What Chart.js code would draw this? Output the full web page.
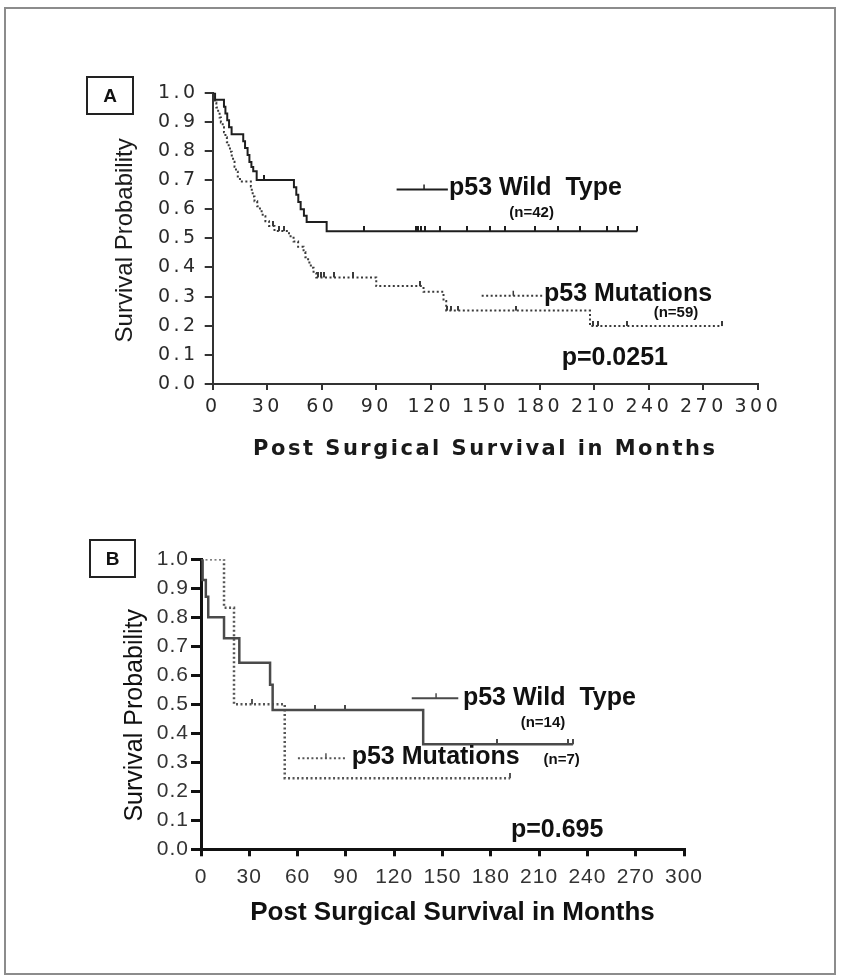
<!DOCTYPE html>
<html>
<head>
<meta charset="utf-8">
<title>p53 survival curves</title>
<script src="https://cdn.jsdelivr.net/npm/chart.js@4.4.1/dist/chart.umd.min.js"></script>
<style>
  html, body { margin: 0; padding: 0; background: #fff; }
  body { width: 841px; height: 980px; position: relative; overflow: hidden; }
  .frame { position: absolute; left: 4px; top: 7px; width: 832px; height: 968px; border: 2px solid #8c8c8c; box-sizing: border-box; }
  canvas { position: absolute; left: 0; }
  #chartA { top: 0; }
  #chartB { top: 480px; }
</style>
</head>
<body>
<div class="frame"></div>
<canvas id="chartA" width="841" height="480"></canvas>
<canvas id="chartB" width="841" height="480"></canvas>
<script>
// axis ticks
const xTicks = [0, 30, 60, 90, 120, 150, 180, 210, 240, 270, 300];
const yTicks = [0, 0.1, 0.2, 0.3, 0.4, 0.5, 0.6, 0.7, 0.8, 0.9, 1.0];

// panel A, all patients (months / survival after each step)
const wtA_months = [0, 1.3, 6.2, 7, 8, 9, 10.4, 16.8, 17.8, 19.2, 20.2, 21.3, 22.3, 24.2, 44.7, 46, 47.1, 48.4, 50.2, 51.7, 62.7, 233.6];
const wtA_surv = [1, 0.976, 0.952, 0.929, 0.905, 0.881, 0.857, 0.833, 0.81, 0.786, 0.762, 0.745, 0.73, 0.70, 0.675, 0.65, 0.625, 0.60, 0.578, 0.556, 0.524, 0.524];
const wtA_censored = [28.5, 83, 111.6, 113, 114.5, 117, 125, 140, 152.6, 160.8, 177.3, 190, 202, 217, 223, 233.6];

const mutA_months = [0, 0.5, 1.2, 2, 3, 3.8, 4.5, 5.5, 6.2, 7, 7.8, 8.8, 9.5, 10.5, 11.2, 12, 12.8, 13.8, 15, 21,
  21.5, 22, 23, 24.5, 26, 27.5, 29, 31, 34, 42, 44.5, 47, 50, 51, 52.5, 54, 55.5, 57, 90, 116, 127, 128.5, 207.6, 280];
const mutA_surv = [1, 0.983, 0.966, 0.949, 0.932, 0.915, 0.898, 0.881, 0.864, 0.847, 0.83, 0.814, 0.797, 0.78, 0.763, 0.746, 0.729, 0.712, 0.695, 0.678,
  0.661, 0.644, 0.627, 0.61, 0.593, 0.576, 0.559, 0.542, 0.525, 0.507, 0.489, 0.471, 0.453, 0.435, 0.417, 0.399, 0.381, 0.366, 0.336, 0.317, 0.285, 0.252, 0.199, 0.199];
const mutA_censored = [33, 36.5, 39, 58, 59.5, 61, 67, 77.4, 114, 128.8, 131, 135, 167, 209.4, 212, 227.8, 280];

// panel B, subgroup
const wtB_months = [0, 1, 3, 4.5, 14.3, 23.8, 42.9, 44.5, 138, 231];
const wtB_surv = [1, 0.929, 0.871, 0.80, 0.728, 0.643, 0.567, 0.48, 0.362, 0.362];
const wtB_censored = [70.8, 89.4, 183.6, 228, 231];

const mutB_months = [0, 14.3, 20.5, 52, 192];
const mutB_surv = [1, 0.833, 0.5, 0.245, 0.245];
const mutB_censored = [31.5, 192];

function kmPoints(months, surv) {
  return months.map((m, i) => ({ x: m, y: surv[i] }));
}

// censored cases sit on the curve at the time they drop out
function censorPoints(times, months, surv) {
  return times.map(t => {
    let i = 0;
    while (i + 1 < months.length && months[i + 1] <= t) i++;
    return { x: t, y: surv[i] };
  });
}

// small upward tick used as point style
function tickMark(h, color) {
  const c = document.createElement('canvas');
  c.width = 2;
  c.height = h * 2;
  const g = c.getContext('2d');
  g.fillStyle = color;
  g.fillRect(0, 0, 2, h);
  return c;
}

const notes = {
  id: 'notes',
  beforeDraw(chart, args, opts) {
    chart.ctx.letterSpacing = opts.tickSpacing || '0px';
  },
  beforeDatasetsDraw(chart) {
    chart.ctx.letterSpacing = '0px';
  },
  afterDraw(chart, args, opts) {
    const { ctx, chartArea: area, scales: { x, y } } = chart;
    ctx.save();
    ctx.letterSpacing = '0px';

    // panel letter
    const b = opts.box;
    ctx.lineWidth = 2;
    ctx.strokeStyle = '#222';
    ctx.strokeRect(b.x, b.y, b.w, b.h);
    ctx.fillStyle = '#111';
    ctx.font = 'bold 19px "Liberation Sans"';
    ctx.textAlign = 'center';
    ctx.textBaseline = 'middle';
    ctx.fillText(b.text, b.x + b.w / 2, b.y + b.h / 2 + 1);

    // axis titles
    const xt = opts.xTitle, yt = opts.yTitle;
    ctx.fillStyle = opts.titleColor;
    ctx.font = xt.font;
    ctx.letterSpacing = xt.spacing;
    ctx.fillText(xt.text, (area.left + area.right) / 2 + xt.dx, area.bottom + xt.dy);
    ctx.letterSpacing = '0px';
    ctx.save();
    ctx.translate(area.left + yt.dx, (area.top + area.bottom) / 2 + yt.dy);
    ctx.rotate(-Math.PI / 2);
    ctx.font = yt.font;
    ctx.fillText(yt.text, 0, 0);
    ctx.restore();

    // legend keys
    opts.keys.forEach(k => {
      const py = y.getPixelForValue(k.y);
      ctx.strokeStyle = k.color;
      ctx.lineWidth = k.width;
      ctx.setLineDash(k.dash);
      ctx.beginPath();
      ctx.moveTo(x.getPixelForValue(k.from), py);
      ctx.lineTo(x.getPixelForValue(k.to), py);
      ctx.stroke();
      ctx.setLineDash([]);
      const tx = x.getPixelForValue(k.tick);
      ctx.lineWidth = 1.5;
      ctx.beginPath();
      ctx.moveTo(tx, py);
      ctx.lineTo(tx, py - 5);
      ctx.stroke();
    });

    // labels
    ctx.fillStyle = '#111';
    ctx.textBaseline = 'middle';
    opts.texts.forEach(t => {
      ctx.font = t.font;
      ctx.textAlign = t.align;
      ctx.fillText(t.text, x.getPixelForValue(t.x), y.getPixelForValue(t.y));
    });
    ctx.restore();
  }
};

function axes(s) {
  return {
    x: {
      type: 'linear', min: 0, max: 300,
      afterBuildTicks: sc => { sc.ticks = xTicks.map(v => ({ value: v })); },
      afterFit: sc => { sc.height = s.xHeight; },
      grid: { drawOnChartArea: false, drawTicks: true, tickLength: s.xTickLen, color: s.axisColor, lineWidth: s.axisWidth },
      border: { display: true, color: s.axisColor, width: s.axisWidth },
      ticks: { padding: s.xPad, color: s.tickColor, font: s.tickFont, maxRotation: 0, autoSkip: false }
    },
    y: {
      type: 'linear', min: 0, max: 1,
      afterBuildTicks: sc => { sc.ticks = yTicks.map(v => ({ value: v })); },
      afterFit: sc => { sc.width = s.yWidth; },
      grid: { drawOnChartArea: false, drawTicks: true, tickLength: s.yTickLen, color: s.axisColor, lineWidth: s.axisWidth },
      border: { display: true, color: s.axisColor, width: s.axisWidth },
      ticks: { padding: s.yPad, color: s.tickColor, font: s.tickFont, callback: v => v.toFixed(1) }
    }
  };
}

function datasets(wt, mut, style) {
  return [
    { data: kmPoints(wt.months, wt.surv), stepped: true, borderColor: style.wtColor, borderWidth: style.wtWidth, pointRadius: 0, fill: false },
    { data: kmPoints(mut.months, mut.surv), stepped: true, borderColor: style.mutColor, borderWidth: style.mutWidth, borderDash: [2, 2.5], pointRadius: 0, fill: false },
    { data: censorPoints(wt.censored, wt.months, wt.surv), showLine: false, pointStyle: tickMark(5, style.wtColor), pointRadius: 3 },
    { data: censorPoints(mut.censored, mut.months, mut.surv), showLine: false, pointStyle: tickMark(5, style.mutColor), pointRadius: 3 }
  ];
}

Chart.defaults.font.family = '"Liberation Sans", Arial, sans-serif';

new Chart(document.getElementById('chartA'), {
  type: 'line',
  data: {
    datasets: datasets(
      { months: wtA_months, surv: wtA_surv, censored: wtA_censored },
      { months: mutA_months, surv: mutA_surv, censored: mutA_censored },
      { wtColor: '#1e1e1e', wtWidth: 2, mutColor: '#3a3a3a', mutWidth: 2 })
  },
  options: {
    responsive: false, animation: false, events: [],
    layout: { padding: { left: 100, top: 92.7, right: 83.1, bottom: 6 } },
    scales: axes({
      xHeight: 90, yWidth: 112.7, xTickLen: 6, yTickLen: 8, xPad: 6, yPad: 6,
      axisColor: '#333', axisWidth: 2, tickColor: '#2a2a2a',
      tickFont: { family: '"DejaVu Sans"', size: 19 }
    }),
    plugins: {
      legend: { display: false }, tooltip: { enabled: false },
      notes: {
        tickSpacing: '3.5px',
        titleColor: '#1a1a1a',
        box: { x: 87, y: 77, w: 46, h: 37, text: 'A' },
        xTitle: { text: 'Post Surgical Survival in Months', font: 'bold 21px "DejaVu Sans"', spacing: '2.5px', dx: 0, dy: 66 },
        yTitle: { text: 'Survival Probability', font: '24px "Liberation Sans"', dx: -87.7, dy: 2 },
        keys: [
          { from: 101.2, to: 129.4, tick: 116.3, y: 0.668, color: '#1e1e1e', width: 2, dash: [] },
          { from: 148, to: 181.7, tick: 165.4, y: 0.303, color: '#3a3a3a', width: 2, dash: [2, 2.5] }
        ],
        texts: [
          { text: 'p53 Wild  Type', x: 130, y: 0.672, align: 'left', font: 'bold 25px "Liberation Sans"' },
          { text: '(n=42)', x: 175.5, y: 0.587, align: 'center', font: 'bold 15px "Liberation Sans"' },
          { text: 'p53 Mutations', x: 182.3, y: 0.309, align: 'left', font: 'bold 25px "Liberation Sans"' },
          { text: '(n=59)', x: 254.9, y: 0.243, align: 'center', font: 'bold 15px "Liberation Sans"' },
          { text: 'p=0.0251', x: 192, y: 0.089, align: 'left', font: 'bold 25px "Liberation Sans"' }
        ]
      }
    }
  },
  plugins: [notes]
});

new Chart(document.getElementById('chartB'), {
  type: 'line',
  data: {
    datasets: datasets(
      { months: wtB_months, surv: wtB_surv, censored: wtB_censored },
      { months: mutB_months, surv: mutB_surv, censored: mutB_censored },
      { wtColor: '#4a4a4a', wtWidth: 2.5, mutColor: '#555', mutWidth: 2.5 })
  },
  options: {
    responsive: false, animation: false, events: [],
    layout: { padding: { left: 105, top: 79.3, right: 157, bottom: 20 } },
    scales: axes({
      xHeight: 90.7, yWidth: 96, xTickLen: 7, yTickLen: 10, xPad: 8, yPad: 2,
      axisColor: '#111', axisWidth: 3, tickColor: '#333',
      tickFont: { family: '"Liberation Sans"', size: 21 }
    }),
    plugins: {
      legend: { display: false }, tooltip: { enabled: false },
      notes: {
        tickSpacing: '1px',
        titleColor: '#111',
        box: { x: 90, y: 60, w: 45, h: 37, text: 'B' },
        xTitle: { text: 'Post Surgical Survival in Months', font: 'bold 26px "Liberation Sans"', spacing: '0px', dx: 10, dy: 63.7 },
        yTitle: { text: 'Survival Probability', font: '25px "Liberation Sans"', dx: -66, dy: 11 },
        keys: [
          { from: 130.9, to: 159.8, tick: 146, y: 0.521, color: '#4a4a4a', width: 2, dash: [] },
          { from: 60.2, to: 89.4, tick: 77.6, y: 0.314, color: '#555', width: 2, dash: [2, 2.5] }
        ],
        texts: [
          { text: 'p53 Wild  Type', x: 162.7, y: 0.522, align: 'left', font: 'bold 25px "Liberation Sans"' },
          { text: '(n=14)', x: 212.4, y: 0.437, align: 'center', font: 'bold 15px "Liberation Sans"' },
          { text: 'p53 Mutations', x: 93.6, y: 0.318, align: 'left', font: 'bold 25px "Liberation Sans"' },
          { text: '(n=7)', x: 224, y: 0.308, align: 'center', font: 'bold 15px "Liberation Sans"' },
          { text: 'p=0.695', x: 192.5, y: 0.067, align: 'left', font: 'bold 25px "Liberation Sans"' }
        ]
      }
    }
  },
  plugins: [notes]
});
</script>
</body>
</html>
